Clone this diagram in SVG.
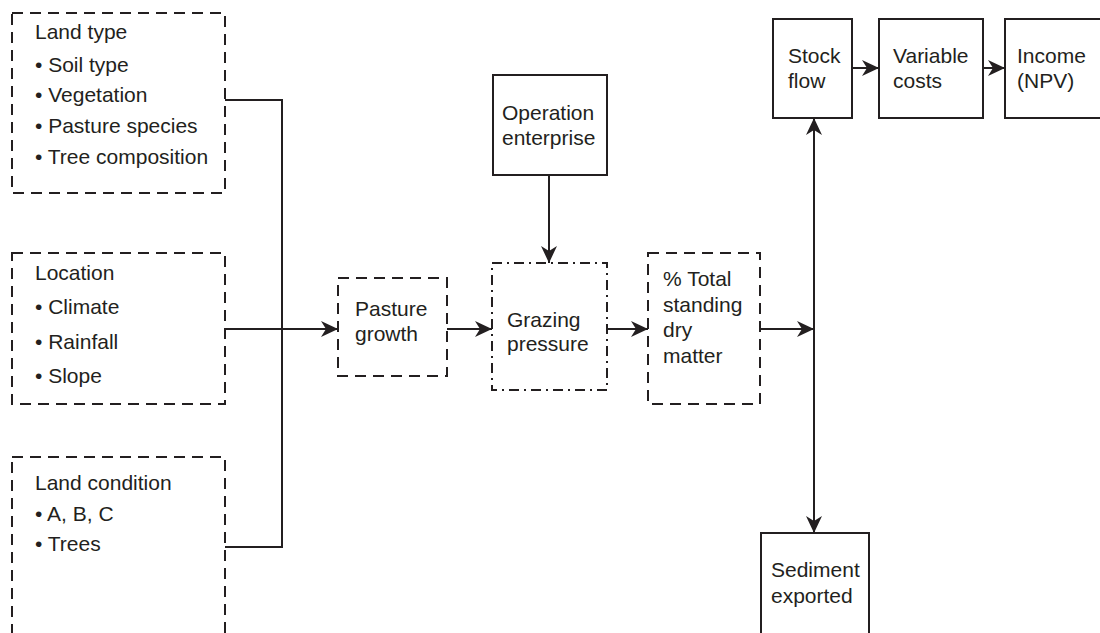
<svg xmlns="http://www.w3.org/2000/svg" width="1100" height="633" viewBox="0 0 1100 633">
<style>
.box{fill:none;stroke:#231f20;stroke-width:2}
.dash{fill:none;stroke:#231f20;stroke-width:2;stroke-dasharray:11 7}
.dashdot{fill:none;stroke:#231f20;stroke-width:2;stroke-dasharray:10 5 2 5}
.conn{fill:none;stroke:#231f20;stroke-width:2}
text{font-family:"Liberation Sans",Arial,Helvetica,sans-serif;font-size:21px;fill:#231f20}
</style>
<defs>
<marker id="ah" markerUnits="userSpaceOnUse" markerWidth="18" markerHeight="18" viewBox="0 0 18 18" refX="17" refY="9" orient="auto-start-reverse">
<path d="M0,1 L17,9 L0,17 L5,9 z" fill="#231f20"/>
</marker>
</defs>
<rect width="1100" height="633" fill="#ffffff"/>
<g id="land-type">
<rect class="dash" x="12" y="13" width="213" height="180"/>
<text x="35" y="39">Land type</text>
<text x="35" y="72">• Soil type</text>
<text x="35" y="102">• Vegetation</text>
<text x="35" y="133">• Pasture species</text>
<text x="35" y="164">• Tree composition</text>
</g>
<g id="location">
<rect class="dash" x="12" y="253" width="213" height="151"/>
<text x="35" y="280">Location</text>
<text x="35" y="314">• Climate</text>
<text x="35" y="349">• Rainfall</text>
<text x="35" y="383">• Slope</text>
</g>
<g id="land-condition">
<rect class="dash" x="12" y="457" width="213" height="200"/>
<text x="35" y="490">Land condition</text>
<text x="35" y="521">• A, B, C</text>
<text x="35" y="551">• Trees</text>
</g>
<g id="pasture-growth">
<rect class="dash" x="338" y="278" width="109" height="98"/>
<text x="355" y="316">Pasture</text>
<text x="355" y="341">growth</text>
</g>
<g id="operation-enterprise">
<rect class="box" x="493" y="75" width="114" height="100"/>
<text x="502" y="120">Operation</text>
<text x="502" y="145">enterprise</text>
</g>
<g id="grazing-pressure">
<rect class="dashdot" x="492" y="263" width="115" height="127"/>
<text x="507" y="327">Grazing</text>
<text x="507" y="351">pressure</text>
</g>
<g id="total-standing-dry-matter">
<rect class="dash" x="648" y="253" width="112" height="151"/>
<text x="663" y="286">% Total</text>
<text x="663" y="312">standing</text>
<text x="663" y="337">dry</text>
<text x="663" y="363">matter</text>
</g>
<g id="stock-flow">
<rect class="box" x="773" y="19" width="79" height="99"/>
<text x="788" y="63">Stock</text>
<text x="788" y="88">flow</text>
</g>
<g id="variable-costs">
<rect class="box" x="879" y="19" width="104" height="99"/>
<text x="893" y="63">Variable</text>
<text x="893" y="88">costs</text>
</g>
<g id="income">
<rect class="box" x="1005" y="19" width="110" height="99"/>
<text x="1017" y="63">Income</text>
<text x="1017" y="88">(NPV)</text>
</g>
<g id="sediment-exported">
<rect class="box" x="761" y="533" width="108" height="120"/>
<text x="771" y="577">Sediment</text>
<text x="771" y="603">exported</text>
</g>
<g id="connectors">
<path class="conn" d="M225,100 H282 V547 H225"/>
<path class="conn" d="M225,329 H338" marker-end="url(#ah)"/>
<path class="conn" d="M447,329 H492" marker-end="url(#ah)"/>
<path class="conn" d="M549,175 V263" marker-end="url(#ah)"/>
<path class="conn" d="M607,329 H648" marker-end="url(#ah)"/>
<path class="conn" d="M760,329 H814" marker-end="url(#ah)"/>
<path class="conn" d="M814,118 V533" marker-start="url(#ah)" marker-end="url(#ah)"/>
<path class="conn" d="M852,68 H879" marker-end="url(#ah)"/>
<path class="conn" d="M983,68 H1005" marker-end="url(#ah)"/>
</g>
</svg>
